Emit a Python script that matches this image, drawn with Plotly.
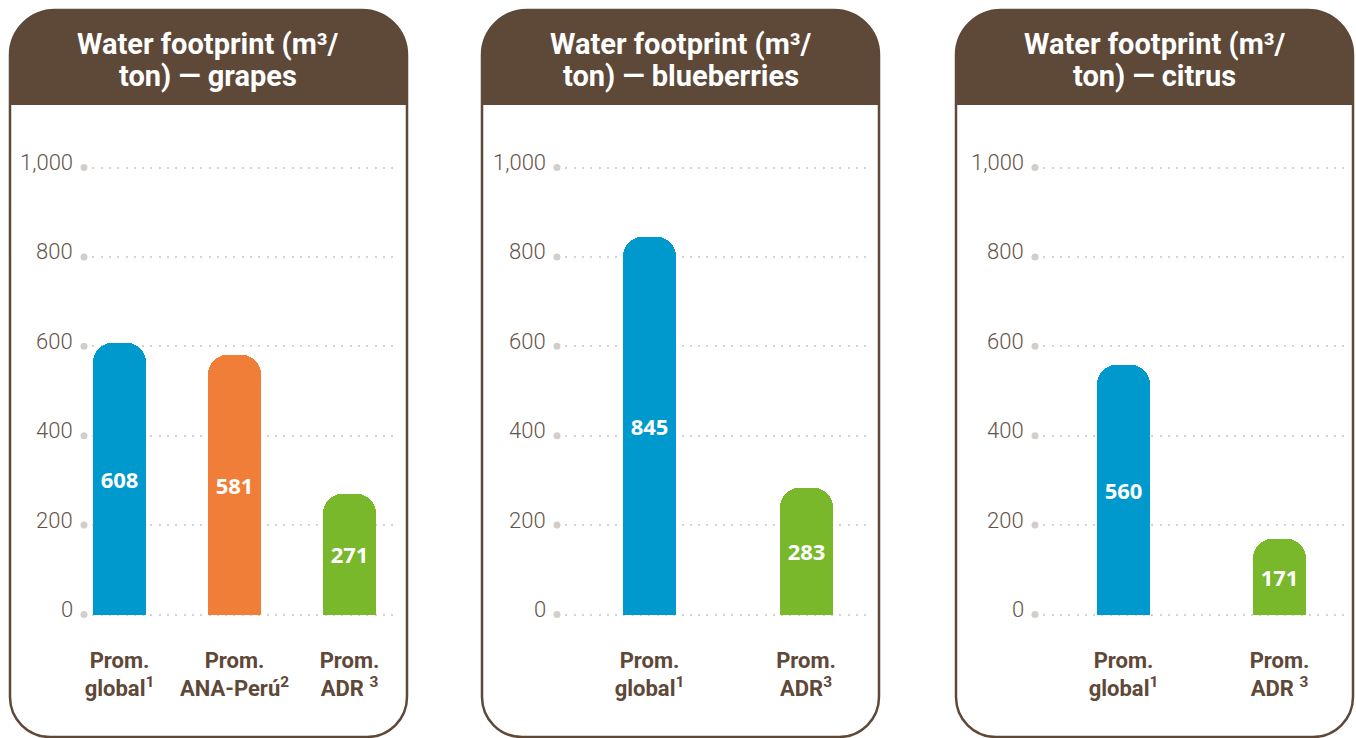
import plotly.graph_objects as go

# ---- data ----
crops = ["grapes", "blueberries", "citrus"]
categories = [
    ["Prom.<br>global<sup>1</sup>", "Prom.<br>ANA-Perú<sup>2</sup>", "Prom.<br>ADR <sup>3</sup>"],
    ["Prom.<br>global<sup>1</sup>", "Prom.<br>ADR<sup>3</sup>"],
    ["Prom.<br>global<sup>1</sup>", "Prom.<br>ADR <sup>3</sup>"],
]
grapes_values = [608, 581, 271]
blueberries_values = [845, 283]
citrus_values = [560, 171]
values = [grapes_values, blueberries_values, citrus_values]
y_ticks = [0, 200, 400, 600, 800, 1000]
y_ticktext = ["0", "200", "400", "600", "800", "1,000"]

# ---- styling ----
W, H = 1356, 738
BROWN = "#5E4838"
TICK_BROWN = "#66544A"
GRID = "#D6D1CD"
BLUE = "#0099CD"
ORANGE = "#F07E39"
GREEN = "#78B82A"
bar_colors = [[BLUE, ORANGE, GREEN], [BLUE, GREEN], [BLUE, GREEN]]

# card geometry (pixels)
cards = [(10, 407), (482, 879), (956, 1353)]
card_top, header_bottom, card_bottom = 10, 105, 737
# plot area (pixels): left edge at the grid dot, right edge near the border
plot_px = [(84, 398), (557, 872), (1035, 1347)]
bar_centers = [(119.5, 234.5, 348.5), (649.5, 806.0), (1123.5, 1279.5)]
bar_px_width = 53
y0_px, y1000_px = 614.5, 167.5
y_range = [-20, 1020]


def px_x(x):
    return x / W


def px_y(y):
    return 1 - y / H


px_per_unit = (y0_px - y1000_px) / 1000.0
dom_bottom = px_y(y0_px - y_range[0] * px_per_unit)
dom_top = px_y(y0_px - y_range[1] * px_per_unit)

K = 0.5523


def rounded_path(x0, y0, x1, y1, rt, rb):
    """Closed path with top corner radius rt and bottom radius rb (pixels)."""
    X, Y = px_x, px_y
    p = f"M {X(x0)},{Y(y0 + rt)} "
    p += f"C {X(x0)},{Y(y0 + rt - K * rt)} {X(x0 + rt - K * rt)},{Y(y0)} {X(x0 + rt)},{Y(y0)} "
    p += f"L {X(x1 - rt)},{Y(y0)} "
    p += f"C {X(x1 - rt + K * rt)},{Y(y0)} {X(x1)},{Y(y0 + rt - K * rt)} {X(x1)},{Y(y0 + rt)} "
    if rb > 0:
        p += f"L {X(x1)},{Y(y1 - rb)} "
        p += f"C {X(x1)},{Y(y1 - rb + K * rb)} {X(x1 - rb + K * rb)},{Y(y1)} {X(x1 - rb)},{Y(y1)} "
        p += f"L {X(x0 + rb)},{Y(y1)} "
        p += f"C {X(x0 + rb - K * rb)},{Y(y1)} {X(x0)},{Y(y1 - rb + K * rb)} {X(x0)},{Y(y1 - rb)} "
    else:
        p += f"L {X(x1)},{Y(y1)} L {X(x0)},{Y(y1)} "
    p += "Z"
    return p


fig = go.Figure()
shapes = []
annotations = []

for i, crop in enumerate(crops):
    xa = "x" if i == 0 else f"x{i + 1}"
    ya = "y" if i == 0 else f"y{i + 1}"
    vals = values[i]
    n = len(vals)
    centers = bar_centers[i]
    spacing = centers[1] - centers[0]
    pl, pr = plot_px[i]
    x_left = (pl - centers[0]) / spacing
    x_right = (pr - centers[0]) / spacing
    xs = list(range(n))

    fig.add_trace(go.Bar(
        x=xs, y=vals, xaxis=xa, yaxis=ya,
        width=bar_px_width / spacing,
        marker=dict(color=bar_colors[i], cornerradius=20, line=dict(width=0)),
        text=[str(v) for v in vals],
        textposition="inside", insidetextanchor="middle",
        textangle=0,
        textfont=dict(family="Open Sans", size=22, color="white", weight="bold"),
        hoverinfo="skip", showlegend=False,
    ))
    # grid start dots
    fig.add_trace(go.Scatter(
        x=[x_left] * len(y_ticks), y=y_ticks, xaxis=xa, yaxis=ya,
        mode="markers", cliponaxis=False,
        marker=dict(color="#D3CECA", size=7),
        hoverinfo="skip", showlegend=False,
    ))

    xkey = "xaxis" if i == 0 else f"xaxis{i + 1}"
    ykey = "yaxis" if i == 0 else f"yaxis{i + 1}"
    fig.update_layout({
        xkey: dict(
            domain=[px_x(pl), px_x(pr)], range=[x_left, x_right],
            tickvals=xs, ticktext=categories[i],
            ticks="outside", ticklen=17, tickcolor="rgba(0,0,0,0)",
            tickfont=dict(family="Roboto", size=22, color=BROWN, weight="bold"),
            showgrid=False, zeroline=False, showline=False,
            anchor=ya, fixedrange=True,
        ),
        ykey: dict(
            domain=[dom_bottom, dom_top], range=y_range,
            tickvals=y_ticks, showticklabels=False, ticks="",
            showgrid=True, gridcolor=GRID, gridwidth=2, griddash="2px,6.3px",
            zeroline=False, showline=False,
            anchor=xa, fixedrange=True,
        ),
    })

    # value-axis labels, set slightly above their grid lines
    for tv, tt in zip(y_ticks, y_ticktext):
        annotations.append(dict(
            xref=f"{xa} domain", yref=ya, x=0, y=tv,
            xanchor="right", yanchor="middle", xshift=-9, yshift=5,
            text=tt, showarrow=False,
            font=dict(family="Roboto", size=22, color=TICK_BROWN, weight=300),
        ))

    cx0, cx1 = cards[i]
    shapes.append(dict(
        type="path", xref="paper", yref="paper", layer="below",
        path=rounded_path(cx0, card_top, cx1, card_bottom, 45, 40),
        fillcolor="white", line=dict(color=BROWN, width=2.5),
    ))
    shapes.append(dict(
        type="path", xref="paper", yref="paper", layer="below",
        path=rounded_path(cx0, card_top, cx1, header_bottom, 45, 0),
        fillcolor=BROWN, line=dict(width=0),
    ))
    title_lines = ["Water footprint (m³/", f"ton) — {crop}"]
    for line, y_line in zip(title_lines, (44.5, 76)):
        annotations.append(dict(
            xref="paper", yref="paper",
            x=px_x((cx0 + cx1) / 2), y=px_y(y_line),
            xanchor="center", yanchor="middle", align="center",
            text=line, showarrow=False,
            font=dict(family="Roboto", size=29, color="white", weight="bold"),
        ))

fig.update_layout(
    width=W, height=H,
    margin=dict(l=0, r=0, t=0, b=0),
    paper_bgcolor="white", plot_bgcolor="rgba(0,0,0,0)",
    shapes=shapes, annotations=annotations,
    bargap=0,
)

fig.write_html("out.html")
